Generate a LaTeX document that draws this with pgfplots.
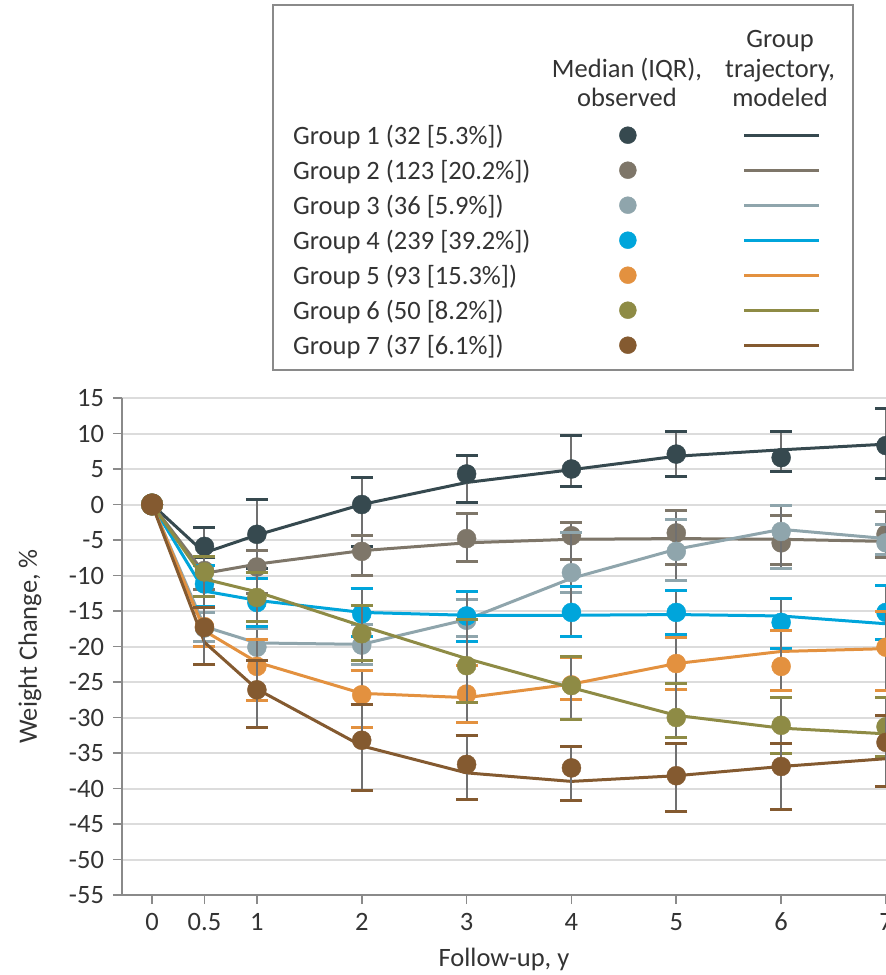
\documentclass[border=0pt]{standalone}
\usepackage{pgfplots}
\usepackage{pgfplotstable}
\pgfplotsset{compat=1.18}
\usepackage{fontspec}
\setmainfont{Carlito}
\definecolor{gA}{HTML}{36494F}
\definecolor{gB}{HTML}{7E7669}
\definecolor{gC}{HTML}{8FA5AC}
\definecolor{gD}{HTML}{00A5DB}
\definecolor{gE}{HTML}{E3913F}
\definecolor{gF}{HTML}{8E8B45}
\definecolor{gG}{HTML}{845A30}
\definecolor{errgray}{HTML}{707070}
\definecolor{gridgray}{HTML}{DCDCDC}
\definecolor{axisgray}{HTML}{8A8A8A}
\definecolor{textcol}{HTML}{333333}

% observed medians and IQR
\pgfplotstableread{
x y lo hi
0.5 -5.9 -7.5 -3.3
1 -4.2 -9.0 0.7
2 0.0 -5.9 3.8
3 4.3 0.3 6.9
4 5.0 2.5 9.7
5 7.1 3.9 10.3
6 6.6 4.6 10.3
7 8.3 3.7 13.5
}\obsA
\pgfplotstableread{
x y lo hi
0.5 -9.3 -12.0 -7.3
1 -8.8 -12.5 -6.5
2 -6.6 -10.0 -4.4
3 -4.8 -8.0 -1.3
4 -4.4 -7.7 -2.5
5 -4.0 -8.5 -0.8
6 -5.4 -8.5 -1.5
7 -4.2 -7.5 -1.0
}\obsB
\pgfplotstableread{
x y lo hi
0.5 -17.4 -19.3 -15.2
1 -20.1 -22.0 -17.5
2 -19.8 -22.5 -16.9
3 -16.3 -18.6 -13.4
4 -9.6 -12.4 -3.9
5 -6.6 -10.7 -2.1
6 -3.8 -9.0 -0.1
7 -5.4 -7.0 -2.8
}\obsC
\pgfplotstableread{
x y lo hi
0.5 -11.2 -14.4 -8.6
1 -13.8 -17.2 -10.4
2 -15.4 -18.6 -11.8
3 -15.7 -19.3 -12.2
4 -15.2 -18.6 -11.5
5 -15.2 -18.3 -12.1
6 -16.6 -20.3 -13.2
7 -15.2 -19.0 -11.4
}\obsD
\pgfplotstableread{
x y lo hi
0.5 -17.2 -20.0 -14.5
1 -22.8 -27.6 -19.0
2 -26.8 -31.4 -23.4
3 -26.7 -30.7 -22.7
4 -25.4 -27.5 -21.5
5 -22.4 -26.1 -18.7
6 -22.8 -26.2 -17.7
7 -20.1 -26.2 -15.1
}\obsE
\pgfplotstableread{
x y lo hi
0.5 -9.5 -13.0 -7.3
1 -13.1 -16.5 -9.6
2 -18.2 -22.0 -14.2
3 -22.7 -27.9 -16.2
4 -25.5 -30.3 -21.4
5 -30.0 -32.8 -25.2
6 -31.1 -35.1 -27.2
7 -31.3 -35.5 -27.2
}\obsF
\pgfplotstableread{
x y lo hi
0.5 -17.3 -22.5 -14.5
1 -26.1 -31.4 -22.0
2 -33.2 -40.3 -28.2
3 -36.6 -41.5 -32.5
4 -37.1 -41.7 -34.1
5 -38.2 -43.2 -33.6
6 -36.9 -43.0 -33.6
7 -33.5 -39.7 -29.7
}\obsG

\pgfplotsset{
  modeled/.style={line width=3pt, mark=*, mark indices={1}, mark size=9.5pt, mark options={solid}, forget plot},
  observed/.style={only marks, mark=*, mark size=9.5pt, forget plot,
    error bars/.cd, y dir=both, y explicit, error mark=|,
    error bar style={line width=2pt, color=errgray},
    error mark options={mark size=11pt, line width=3pt, color=#1}},
  legmark/.style={only marks, mark=*, mark size=8.5pt, color=#1,
    legend image code/.code={\path (0pt,0pt) (55pt,0pt); \draw[color=#1] plot coordinates {(27.5pt,0pt)};}},
  legline/.style={color=#1, line width=3pt,
    legend image code/.code={\path (0pt,0pt) (161pt,0pt); \draw[color=#1, line width=3pt] (86pt,0pt) -- (161pt,0pt);}},
}
\newcommand{\obsplot}[2]{\addplot[color=#1, observed=#1] table[x=x, y=y, y error plus expr=\thisrow{hi}-\thisrow{y}, y error minus expr=\thisrow{y}-\thisrow{lo}] {#2};}

\begin{document}
\fontsize{26.5}{31}\selectfont
\begin{tikzpicture}[x=1pt, y=1pt, font=\fontsize{26.5}{31}\selectfont, text=textcol]
\useasboundingbox (0,0) rectangle (886,975);
% legend frame and headers
\draw[axisgray, line width=1.6pt] (273,605) rectangle (853,970);
\node[anchor=base] at (627,897) {Median (IQR),};
\node[anchor=base] at (627,868) {observed};
\node[anchor=base] at (780,927) {Group};
\node[anchor=base] at (780,897) {trajectory,};
\node[anchor=base] at (780,868) {modeled};
\begin{axis}[
  at={(122pt,80pt)}, anchor=south west,
  scale only axis, width=764pt, height=497pt,
  xmin=-0.2865, xmax=7, ymin=-55, ymax=15,
  clip mode=individual,
  axis x line*=bottom, axis y line*=left,
  axis line style={-, draw=axisgray, line width=2pt},
  tick align=outside, major tick length=9pt,
  tick style={draw=axisgray, line width=1.6pt},
  xtick={0,0.5,1,2,3,4,5,6,7},
  xticklabels={0,0.5,1,2,3,4,5,6,7},
  ytick={-55,-50,...,15},
  yticklabels={-55,-50,-45,-40,-35,-30,-25,-20,-15,-10,-5,0,5,10,15},
  ymajorgrids, grid style={draw=gridgray, line width=2pt},
  tick label style={font=\fontsize{26.5}{31}\selectfont, text=textcol},
  label style={font=\fontsize{26.5}{31}\selectfont, text=textcol},
  xlabel={Follow-up, y}, ylabel={Weight Change, \%},
  xlabel style={at={(axis description cs:0.5,-0.1429)}, anchor=base},
  ylabel style={at={(axis description cs:-0.1113,0.5)}, anchor=base, rotate=0},
  legend columns=2, legend plot pos=right, legend cell align=left,
  legend style={at={(0.2238,1.5644)}, anchor=north west, draw=none, fill=none,
    inner sep=0pt, column sep=0pt, row sep=0pt,
    nodes={inner sep=0pt, minimum height=35pt, text depth=0pt, text=textcol,
      font=\fontsize{26.5}{31}\selectfont}},
]
\addlegendimage{legmark=gA}\addlegendentry{\makebox[307pt][l]{Group 1 (32 [5.3\%])}}
\addlegendimage{legline=gA}\addlegendentry{}
\addlegendimage{legmark=gB}\addlegendentry{\makebox[307pt][l]{Group 2 (123 [20.2\%])}}
\addlegendimage{legline=gB}\addlegendentry{}
\addlegendimage{legmark=gC}\addlegendentry{\makebox[307pt][l]{Group 3 (36 [5.9\%])}}
\addlegendimage{legline=gC}\addlegendentry{}
\addlegendimage{legmark=gD}\addlegendentry{\makebox[307pt][l]{Group 4 (239 [39.2\%])}}
\addlegendimage{legline=gD}\addlegendentry{}
\addlegendimage{legmark=gE}\addlegendentry{\makebox[307pt][l]{Group 5 (93 [15.3\%])}}
\addlegendimage{legline=gE}\addlegendentry{}
\addlegendimage{legmark=gF}\addlegendentry{\makebox[307pt][l]{Group 6 (50 [8.2\%])}}
\addlegendimage{legline=gF}\addlegendentry{}
\addlegendimage{legmark=gG}\addlegendentry{\makebox[307pt][l]{Group 7 (37 [6.1\%])}}
\addlegendimage{legline=gG}\addlegendentry{}

% Group 1
\addplot[gA, modeled] coordinates {(0,0) (0.5,-6.8) (1,-4.3) (2,0.0) (3,3.1) (4,4.9) (5,6.8) (6,7.7) (7,8.5)};
\obsplot{gA}{\obsA}
% Group 2
\addplot[gB, modeled] coordinates {(0,0) (0.5,-9.7) (1,-8.4) (2,-6.5) (3,-5.4) (4,-4.9) (5,-4.8) (6,-4.9) (7,-5.2)};
\obsplot{gB}{\obsB}
% Group 3
\addplot[gC, modeled] coordinates {(0,0) (0.5,-17.2) (1,-19.5) (2,-19.7) (3,-16.2) (4,-10.4) (5,-6.3) (6,-3.5) (7,-4.8)};
\obsplot{gC}{\obsC}
% Group 4
\addplot[gD, modeled] coordinates {(0,0) (0.5,-12.2) (1,-13.5) (2,-15.2) (3,-15.6) (4,-15.6) (5,-15.5) (6,-15.7) (7,-16.8)};
\obsplot{gD}{\obsD}
% Group 5
\addplot[gE, modeled] coordinates {(0,0) (0.5,-17.8) (1,-22.2) (2,-26.6) (3,-27.2) (4,-25.3) (5,-22.4) (6,-20.7) (7,-20.3)};
\obsplot{gE}{\obsE}
% Group 6
\addplot[gF, modeled] coordinates {(0,0) (0.5,-10.5) (1,-12.3) (2,-17.1) (3,-21.7) (4,-25.8) (5,-29.7) (6,-31.5) (7,-32.3)};
\obsplot{gF}{\obsF}
% Group 7
\addplot[gG, modeled] coordinates {(0,0) (0.5,-19.4) (1,-26.0) (2,-34.0) (3,-37.8) (4,-39.0) (5,-38.2) (6,-36.9) (7,-35.8)};
\obsplot{gG}{\obsG}
\end{axis}
\end{tikzpicture}
\end{document}
